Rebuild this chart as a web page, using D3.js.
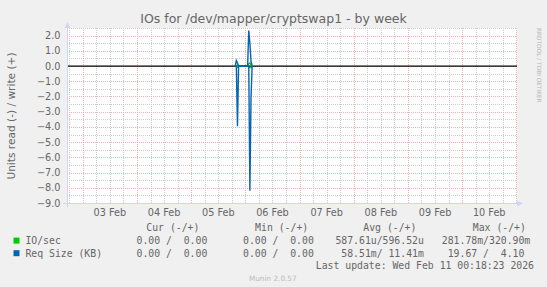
<!DOCTYPE html>
<html>
<head>
<meta charset="utf-8">
<title>IOs for /dev/mapper/cryptswap1 - by week</title>
<script src="https://cdnjs.cloudflare.com/ajax/libs/d3/7.8.5/d3.min.js"></script>
<style>
  body { margin: 0; background: #f0f0f0; }
  text { font-family: "DejaVu Sans", sans-serif; fill: #666666; }
  .mono { font-family: "DejaVu Sans Mono", monospace; font-size: 9.8px; white-space: pre; }
</style>
</head>
<body>
<svg id="chart" width="547" height="287"></svg>
<script>
// ---- data ----
var timeStart = "2026-02-02T17:00:00Z";
var timeEnd = "2026-02-11T00:18:00Z";

// 30 min samples around the two bursts, everything else unknown
var ioTimes  = ["2026-02-05T19:30:00Z","2026-02-05T20:00:00Z","2026-02-05T20:30:00Z","2026-02-05T21:00:00Z",
                "2026-02-06T00:30:00Z","2026-02-06T01:00:00Z","2026-02-06T01:30:00Z","2026-02-06T02:00:00Z","2026-02-06T02:30:00Z","2026-02-06T03:00:00Z"];
var ioWrite  = [0, 0.03, 0.06, 0,   0, 0, 0.15, 0.2, 0.08, 0];
var ioRead   = [0, 0.02, 0.08, 0,   0, 0, 0.05, 0.1, 0.1, 0];

var reqTimes = ["2026-02-05T19:30:00Z","2026-02-05T20:00:00Z","2026-02-05T20:30:00Z","2026-02-05T21:00:00Z",
                "2026-02-06T01:00:00Z","2026-02-06T01:30:00Z","2026-02-06T02:00:00Z","2026-02-06T02:30:00Z","2026-02-06T03:00:00Z"];
var reqWrite = [0, 0.36, 0.2, 0,   0, 2.33, 1.5, 0.3, 0];
var reqRead  = [0, 0, 3.95, 0,   0, 0, 8.2, 2.1, 0];

var yTicks = [2.0, 1.0, 0.0, -1.0, -2.0, -3.0, -4.0, -5.0, -6.0, -7.0, -8.0, -9.0];
var dayLabels = ["03 Feb","04 Feb","05 Feb","06 Feb","07 Feb","08 Feb","09 Feb","10 Feb"];

var legendHead = ["Cur (-/+)", "Min (-/+)", "Avg (-/+)", "Max (-/+)"];
var legendNames = ["IO/sec", "Req Size (KB)"];
var legendColors = ["#00cc00", "#0066b3"];
var legendCur = ["0.00 /  0.00", "0.00 /  0.00"];
var legendMin = ["0.00 /  0.00", "0.00 /  0.00"];
var legendAvg = ["587.61u/596.52u", " 58.51m/ 11.41m"];
var legendMax = ["281.78m/320.90m", " 19.67 /  4.10"];

// ---- layout ----
var svg = d3.select("#chart");
var parse = d3.utcParse("%Y-%m-%dT%H:%M:%SZ");

var plotLeft = 67, plotRight = 517, plotTop = 28, plotBottom = 203;

var x = d3.scaleUtc()
    .domain([parse(timeStart), parse(timeEnd)])
    .range([plotLeft, plotRight]);
var y = d3.scaleLinear()
    .domain([-9, 2.5])
    .range([plotBottom, plotTop]);

svg.append("rect").attr("width", 547).attr("height", 287).attr("fill", "#f0f0f0");
svg.append("rect")
    .attr("x", plotLeft).attr("y", plotTop)
    .attr("width", plotRight - plotLeft).attr("height", plotBottom - plotTop)
    .attr("fill", "#ffffff");

// grid
var grid = svg.append("g");
var days = d3.utcDay.range(x.domain()[0], x.domain()[1]);
var sixHours = d3.utcHour.every(6).range(x.domain()[0], x.domain()[1])
    .filter(function(d) { return d.getUTCHours() !== 0; });

grid.selectAll(".vminor").data(sixHours).enter().append("line")
    .attr("x1", function(d) { return Math.round(x(d)) + 0.5; })
    .attr("x2", function(d) { return Math.round(x(d)) + 0.5; })
    .attr("y1", plotTop).attr("y2", plotBottom)
    .attr("stroke", "#cccccc").attr("stroke-dasharray", "1,1");

var halfSteps = d3.range(-8.5, 2.6, 1);
grid.selectAll(".hminor").data(halfSteps).enter().append("line")
    .attr("x1", plotLeft).attr("x2", plotRight)
    .attr("y1", function(d) { return Math.round(y(d)) + 0.5; })
    .attr("y2", function(d) { return Math.round(y(d)) + 0.5; })
    .attr("stroke", "#cccccc").attr("stroke-dasharray", "1,1");

grid.selectAll(".vmajor").data(days.filter(function(d) { return x(d) > plotLeft; })).enter().append("line")
    .attr("x1", function(d) { return Math.round(x(d)) + 0.5; })
    .attr("x2", function(d) { return Math.round(x(d)) + 0.5; })
    .attr("y1", plotTop).attr("y2", plotBottom)
    .attr("stroke", "#f2b0b0").attr("stroke-dasharray", "1,1");

grid.selectAll(".hmajor").data(yTicks).enter().append("line")
    .attr("x1", plotLeft).attr("x2", plotRight)
    .attr("y1", function(d) { return Math.round(y(d)) + 0.5; })
    .attr("y2", function(d) { return Math.round(y(d)) + 0.5; })
    .attr("stroke", "#f2b0b0").attr("stroke-dasharray", "1,1");

// zero line
svg.append("line")
    .attr("x1", plotLeft).attr("x2", plotRight)
    .attr("y1", y(0)).attr("y2", y(0))
    .attr("stroke", "#000").attr("stroke-width", 1.2);

// series
function drawSeries(times, vals, sign, color) {
    var pts = times.map(function(t, i) { return [parse(t), sign * vals[i]]; });
    var line = d3.line()
        .x(function(d) { return x(d[0]); })
        .y(function(d) { return y(d[1]); });
    svg.append("path")
        .attr("d", line(pts))
        .attr("fill", "none")
        .attr("stroke", color)
        .attr("stroke-width", 1.4);
}
drawSeries(ioTimes, ioRead, -1, legendColors[0]);
drawSeries(ioTimes, ioWrite, 1, legendColors[0]);
drawSeries(reqTimes, reqRead, -1, legendColors[1]);
drawSeries(reqTimes, reqWrite, 1, legendColors[1]);

// axes
var axisColor = "#cfd6f8";
svg.append("line").attr("x1", plotLeft - 4).attr("x2", plotRight + 2)
    .attr("y1", plotBottom + 0.5).attr("y2", plotBottom + 0.5).attr("stroke", axisColor);
svg.append("path").attr("d", "M517,200.5L523,203.5L517,206.5Z").attr("fill", axisColor);
svg.append("line").attr("x1", plotLeft + 0.5).attr("x2", plotLeft + 0.5)
    .attr("y1", plotBottom + 4).attr("y2", plotTop - 2).attr("stroke", axisColor);
svg.append("path").attr("d", "M64.5,28L67.5,22L70.5,28Z").attr("fill", axisColor);

// tick labels
svg.selectAll(".ylab").data(yTicks).enter().append("text")
    .attr("x", 60.5).attr("y", function(d) { return y(d) + 3.5; })
    .attr("text-anchor", "end").attr("font-size", "9.7px")
    .text(function(d) { return d3.format(".1f")(d); });

var noons = days.map(function(d) { return d3.utcHour.offset(d, 12); });
svg.selectAll(".xlab").data(noons).enter().append("text")
    .attr("x", function(d) { return x(d); }).attr("y", 215.8)
    .attr("text-anchor", "middle").attr("font-size", "9.7px")
    .text(function(d, i) { return dayLabels[i]; });

// titles
svg.append("text").attr("x", 273.5).attr("y", 22.5)
    .attr("text-anchor", "middle").attr("font-size", "12.5px")
    .text("IOs for /dev/mapper/cryptswap1 - by week");
svg.append("text")
    .attr("transform", "translate(14.5,116) rotate(-90)")
    .attr("text-anchor", "middle").attr("font-size", "10.6px")
    .text("Units read (-) / write (+)");
svg.append("text")
    .attr("transform", "translate(537,28) rotate(90)")
    .attr("font-size", "5.8px").style("fill", "#b8b8b8")
    .text("RRDTOOL / TOBI OETIKER");

// legend
var headX = [146.3, 255.1, 363.3, 472.8];
svg.selectAll(".lhead").data(legendHead).enter().append("text")
    .attr("class", "mono").attr("x", function(d, i) { return headX[i]; }).attr("y", 231.3)
    .text(function(d) { return d; });

var rowY = [243.9, 256.5];
legendNames.forEach(function(name, i) {
    svg.append("rect").attr("x", 13.5).attr("y", rowY[i] - 6.3)
        .attr("width", 6).attr("height", 6).attr("fill", legendColors[i]);
    var cells = [[25.4, name], [136.5, legendCur[i]], [243, legendMin[i]],
                 [335.4, legendAvg[i]], [441.8, legendMax[i]]];
    cells.forEach(function(c) {
        svg.append("text").attr("class", "mono")
            .attr("x", c[0]).attr("y", rowY[i]).text(c[1]);
    });
});
svg.append("text").attr("class", "mono")
    .attr("x", 534).attr("y", 269.1).attr("text-anchor", "end")
    .text("Last update: Wed Feb 11 00:18:23 2026");
svg.append("text").attr("x", 272.8).attr("y", 281)
    .attr("text-anchor", "middle").attr("font-size", "7.3px").style("fill", "#bbbbbb")
    .text("Munin 2.0.57");
</script>
</body>
</html>
